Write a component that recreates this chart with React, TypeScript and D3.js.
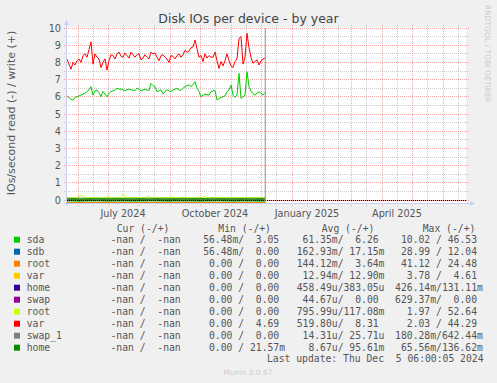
import React from 'react';
import * as d3 from 'd3';

const W = 497;
const H = 383;
const DAY = 86400000;
const START = Date.UTC(2024, 4, 21);
const END = Date.UTC(2025, 5, 25);
const NOW = Date.UTC(2024, 11, 5, 6);

const yTicks = [0, 1, 2, 3, 4, 5, 6, 7, 8, 9, 10];
const xLabelDates = [Date.UTC(2024, 6, 16), Date.UTC(2024, 9, 16), Date.UTC(2025, 0, 16), Date.UTC(2025, 3, 16)];
const xLabelTexts = ['July 2024', 'October 2024', 'January 2025', 'April 2025'];

// writes, 2-day step
const sdaWrite = [
  6.05, 5.95, 5.85, 5.8, 5.97, 6.0, 6.05, 6.1, 6.16, 6.2,
  6.3, 6.4, 6.59, 6.1, 6.35, 6.4, 6.25, 6.0, 6.3, 6.16,
  6.0, 6.2, 6.3, 6.35, 6.4, 6.5, 6.45, 6.44, 6.4, 6.36,
  6.42, 6.44, 6.4, 6.38, 6.36, 6.5, 6.45, 6.34, 6.4, 6.44,
  6.4, 6.36, 6.78, 6.65, 6.59, 6.3, 6.35, 6.4, 6.16, 6.3,
  6.4, 6.35, 6.3, 6.4, 6.45, 6.5, 6.4, 6.36, 6.5, 6.59,
  6.65, 6.69, 6.6, 6.7, 6.88, 6.5, 6.3, 6.0, 6.1, 6.16,
  6.12, 6.1, 6.3, 6.35, 6.36, 5.81, 5.9, 5.97, 6.0, 6.05,
  6.3, 6.4, 6.69, 6.1, 5.97, 6.1, 7.36, 5.91, 6.0, 6.1,
  7.46, 6.59, 6.3, 6.2, 6.1, 6.2, 6.3, 6.2, 6.1, 6.25,
];
const varWrite2 = [
  8.18, 7.9, 7.6, 8.0, 7.85, 8.1, 8.2, 8.0, 8.4, 8.5,
  8.3, 8.75, 9.2, 7.9, 8.5, 8.3, 8.2, 7.7, 8.0, 8.2,
  7.55, 8.1, 8.45, 8.4, 8.2, 8.5, 8.6, 8.35, 8.3, 8.55,
  8.4, 8.25, 8.6, 8.45, 8.3, 8.45, 8.5, 8.15, 8.25, 8.45,
  8.3, 8.2, 8.6, 8.5, 8.55, 8.3, 8.1, 8.4, 8.45, 8.3,
  8.2, 8.0, 8.4, 8.35, 8.2, 8.4, 8.5, 8.3, 8.45, 8.7,
  8.6, 8.65, 8.85, 8.9, 9.3, 8.8, 8.3, 8.4, 8.05, 8.5,
  8.25, 8.4, 8.3, 8.3, 8.6, 8.1, 7.65, 8.05, 7.8, 8.1,
  8.5, 8.1, 7.8, 7.7, 8.05, 8.2, 9.4, 9.5, 7.9, 8.3,
  9.7, 8.85, 8.3, 7.95, 8.05, 8.15, 7.85, 8.1, 8.2, 8.25,
];
const rootWrite2 = [
  0.13, 0.12, 0.13, 0.12, 0.14, 0.13, 0.2, 0.29, 0.14, 0.12,
  0.13, 0.12, 0.13, 0.14, 0.12, 0.13, 0.12, 0.13, 0.12, 0.14,
  0.22, 0.13, 0.12, 0.13, 0.12, 0.14, 0.13, 0.12, 0.33, 0.16,
  0.12, 0.13, 0.12, 0.14, 0.13, 0.12, 0.13, 0.12, 0.13, 0.12,
  0.14, 0.24, 0.13, 0.12, 0.13, 0.12, 0.14, 0.13, 0.12, 0.13,
  0.12, 0.13, 0.14, 0.2, 0.13, 0.12, 0.13, 0.12, 0.14, 0.13,
  0.12, 0.13, 0.12, 0.13, 0.14, 0.12, 0.13, 0.12, 0.16, 0.22,
  0.13, 0.12, 0.13, 0.14, 0.12, 0.13, 0.12, 0.19, 0.13, 0.12,
  0.13, 0.12, 0.14, 0.13, 0.12, 0.13, 0.12, 0.13, 0.14, 0.12,
  0.13, 0.12, 0.13, 0.12, 0.14, 0.13, 0.12, 0.13, 0.14, 0.13,
];
// 6-day step
const homeWrite2 = [
  0.1, 0.09, 0.1, 0.1, 0.09, 0.1, 0.09, 0.1, 0.1, 0.09,
  0.1, 0.1, 0.09, 0.1, 0.1, 0.09, 0.1, 0.1, 0.09, 0.1,
  0.1, 0.09, 0.1, 0.09, 0.1, 0.1, 0.09, 0.1, 0.1, 0.09,
  0.1, 0.1, 0.09, 0.1,
];
const sdaRead = [
  0.06, 0.06, 0.07, 0.06, 0.06, 0.05, 0.06, 0.07, 0.06, 0.06,
  0.06, 0.07, 0.06, 0.06, 0.05, 0.06, 0.06, 0.07, 0.06, 0.06,
  0.06, 0.06, 0.07, 0.06, 0.06, 0.05, 0.06, 0.06, 0.07, 0.06,
  0.06, 0.06, 0.07, 0.06,
];
const sdbRead = [
  0.16, 0.17, 0.16, 0.16, 0.17, 0.16, 0.16, 0.16, 0.17, 0.16,
  0.16, 0.16, 0.17, 0.16, 0.16, 0.17, 0.16, 0.16, 0.16, 0.17,
  0.16, 0.16, 0.16, 0.17, 0.16, 0.16, 0.17, 0.16, 0.16, 0.16,
  0.17, 0.16, 0.16, 0.16,
];
const rootRead = [
  0.14, 0.15, 0.14, 0.14, 0.15, 0.14, 0.14, 0.14, 0.15, 0.14,
  0.14, 0.15, 0.14, 0.14, 0.14, 0.15, 0.14, 0.14, 0.15, 0.14,
  0.14, 0.14, 0.15, 0.14, 0.14, 0.15, 0.14, 0.14, 0.14, 0.15,
  0.14, 0.14, 0.15, 0.14,
];
// 33-day step
const sdbWrite = [0.017, 0.018, 0.016, 0.017, 0.018, 0.017, 0.017];
const rootWrite = [0.004, 0.003, 0.004, 0.004, 0.003, 0.004, 0.004];
const varRead = [0.013, 0.012, 0.013, 0.014, 0.013, 0.012, 0.013];
const varWrite = [0.013, 0.013, 0.012, 0.013, 0.014, 0.013, 0.013];
const homeRead = [0.0005, 0.0004, 0.0005, 0.0005, 0.0004, 0.0005, 0.0005];
const homeWrite = [0.0004, 0.0004, 0.0003, 0.0004, 0.0004, 0.0004, 0.0004];
const swapRead = [0.00004, 0.00005, 0.00004, 0.00004, 0.00005, 0.00004, 0.00004];
const swapWrite = [0, 0, 0, 0, 0, 0, 0];
const rootRead2 = [0.0008, 0.0008, 0.0007, 0.0008, 0.0008, 0.0009, 0.0008];
const varRead2 = [0.0005, 0.0005, 0.0006, 0.0005, 0.0005, 0.0005, 0.0005];
const swap1Read = [0.00001, 0.00001, 0.00002, 0.00001, 0.00001, 0.00001, 0.00001];
const swap1Write = [0.00003, 0.00002, 0.00003, 0.00003, 0.00002, 0.00003, 0.00003];
const homeRead2 = [0.00001, 0.00001, 0.00001, 0.00001, 0.00001, 0.00001, 0.00001];

const legendNames = ['sda', 'sdb', 'root', 'var', 'home', 'swap', 'root', 'var', 'swap_1', 'home'];
const legendColors = ['#00CC00', '#0066B3', '#FF8000', '#FFCC00', '#330099', '#990099', '#CCFF00', '#FF0000', '#808080', '#008F00'];
const curVals = legendNames.map(() => ['-nan', '-nan']);
const minVals = [
  ['56.48m', '3.05'], ['56.48m', '0.00'], ['0.00', '0.00'], ['0.00', '0.00'], ['0.00', '0.00'],
  ['0.00', '0.00'], ['0.00', '0.00'], ['0.00', '4.69'], ['0.00', '0.00'], ['0.00', '21.57m'],
];
const avgVals = [
  ['61.35m', '6.26'], ['162.93m', '17.15m'], ['144.12m', '3.64m'], ['12.94m', '12.90m'], ['458.49u', '383.05u'],
  ['44.67u', '0.00'], ['795.99u', '117.08m'], ['519.80u', '8.31'], ['14.31u', '25.71u'], ['8.67u', '95.61m'],
];
const maxVals = [
  ['10.02', '46.53'], ['28.99', '12.04'], ['41.12', '24.48'], ['3.78', '4.61'], ['426.14m', '131.11m'],
  ['629.37m', '0.00'], ['1.97', '52.64'], ['2.03', '44.29'], ['180.28m', '642.44m'], ['65.56m', '136.62m'],
];
const headerTexts = ['Cur (-/+)', 'Min (-/+)', 'Avg (-/+)', 'Max (-/+)'];

// draw order: [values, stepDays, sign, color]
const seriesDefs: [number[], number, number, string][] = [
  [sdaRead, 6, -1, '#00CC00'], [sdaWrite, 2, 1, '#00CC00'],
  [sdbRead, 6, -1, '#0066B3'], [sdbWrite, 33, 1, '#0066B3'],
  [rootRead, 6, -1, '#FF8000'], [rootWrite, 33, 1, '#FF8000'],
  [varRead, 33, -1, '#FFCC00'], [varWrite, 33, 1, '#FFCC00'],
  [homeRead, 33, -1, '#330099'], [homeWrite, 33, 1, '#330099'],
  [swapRead, 33, -1, '#990099'], [swapWrite, 33, 1, '#990099'],
  [rootRead2, 33, -1, '#CCFF00'], [rootWrite2, 2, 1, '#CCFF00'],
  [varRead2, 33, -1, '#FF0000'], [varWrite2, 2, 1, '#FF0000'],
  [swap1Read, 33, -1, '#808080'], [swap1Write, 33, 1, '#808080'],
  [homeRead2, 33, -1, '#008F00'], [homeWrite2, 6, 1, '#008F00'],
];

const fmt = (s: string) => {
  const last = s[s.length - 1];
  const hasSuf = /[a-z]/.test(last) && s !== '-nan';
  const num = hasSuf ? s.slice(0, -1) : s;
  return num.padStart(6) + (hasSuf ? last : ' ');
};
const cell = (p: string[]) => fmt(p[0]) + '/' + fmt(p[1]);

export default function App() {
  const x = d3.scaleUtc().domain([new Date(START), new Date(END)]).range([67, 467]);
  const y = d3.scaleLinear().domain([-0.1744, 10]).range([203, 28]);
  const line = d3.line<{ t: number; v: number }>().x((d) => x(new Date(d.t))).y((d) => y(d.v));

  const majorX = d3.utcMonth.range(new Date(START), new Date(END));
  const minorX = d3.utcMonth
    .range(new Date(START - 20 * DAY), new Date(END))
    .map((d) => new Date(d.getTime() + 15 * DAY))
    .filter((d) => d.getTime() > START && d.getTime() < END);
  const minorY = d3.range(0.5, 10, 1);

  const gridMinor = 'rgba(140,140,140,0.45)';
  const gridMajor = 'rgba(230,60,60,0.45)';
  const axisCol = '#c8cdf2';
  const textCol = '#555555';
  const mono = '"DejaVu Sans Mono", monospace';
  const sans = '"DejaVu Sans", sans-serif';
  const colX = [98.8, 197.3, 296.7, 395.1];
  const headX = [116.7, 218.3, 321.7, 422.7];
  const x0 = x(new Date(START));
  const x1 = x(new Date(END));
  const yBot = y(-0.1744);
  const yTop = y(10);

  return (
    <svg width={W} height={H} style={{ position: 'absolute', left: 0, top: 0, display: 'block' }}>
      <rect x={0} y={0} width={W} height={H} fill="#F0F0F0" />
      <rect x={x0} y={yTop - 1} width={x1 - x0 - 1} height={yBot - yTop + 1} fill="#FFFFFF" />

      {/* grid */}
      <g shapeRendering="crispEdges" strokeDasharray="1,1">
        {minorY.map((v) => (
          <line key={'my' + v} x1={x0 - 3} x2={x1 + 2} y1={y(v)} y2={y(v)} stroke={gridMinor} />
        ))}
        {minorX.map((d) => (
          <line key={'mx' + d.getTime()} x1={x(d)} x2={x(d)} y1={yTop - 3} y2={yBot + 3} stroke={gridMinor} />
        ))}
        {yTicks.map((v) => (
          <line key={'gy' + v} x1={x0 - 3} x2={x1 + 2} y1={y(v)} y2={y(v)} stroke={gridMajor} />
        ))}
        {majorX.map((d) => (
          <line key={'gx' + d.getTime()} x1={x(d)} x2={x(d)} y1={yTop - 3} y2={yBot + 3} stroke={gridMajor} />
        ))}
      </g>

      {/* series */}
      <g fill="none" strokeWidth={1}>
        {seriesDefs.map(([vals, step, sign, color], i) => (
          <path
            key={'s' + i}
            d={line(vals.map((v, j) => ({ t: START + j * step * DAY, v: sign * v }))) || ''}
            stroke={color}
          />
        ))}
      </g>

      {/* zero line */}
      <line x1={x0} x2={x1 - 1} y1={y(0)} y2={y(0)} stroke="#000" strokeDasharray="1,1" shapeRendering="crispEdges" />

      {/* now line */}
      <line x1={x(new Date(NOW))} x2={x(new Date(NOW))} y1={yTop} y2={yBot} stroke="#909090" strokeWidth={1} />

      {/* axes */}
      <line x1={x0 - 3} x2={x1 + 4} y1={yBot + 0.5} y2={yBot + 0.5} stroke={axisCol} />
      <path d={`M${x1 + 3},${yBot - 2} L${x1 + 8},${yBot + 0.5} L${x1 + 3},${yBot + 3} Z`} fill={axisCol} />
      <line x1={x0 - 0.5} x2={x0 - 0.5} y1={yBot + 3} y2={yTop - 4} stroke={axisCol} />
      <path d={`M${x0 - 3},${yTop - 3} L${x0 - 0.5},${yTop - 8} L${x0 + 2},${yTop - 3} Z`} fill={axisCol} />

      {/* y tick labels */}
      {yTicks.map((v) => (
        <text key={'yl' + v} x={61} y={y(v) + 3.5} textAnchor="end" fontFamily={sans} fontSize={9.7} fill={textCol}>
          {v}
        </text>
      ))}
      {/* x labels */}
      {xLabelDates.map((t, i) => (
        <text key={'xl' + i} x={x(new Date(t))} y={216.5} textAnchor="middle" fontFamily={sans} fontSize={9.7} fill={textCol}>
          {xLabelTexts[i]}
        </text>
      ))}

      {/* title */}
      <text x={248.5} y={23} textAnchor="middle" fontFamily={sans} fontSize={12.5} fill="#444">
        Disk IOs per device - by year
      </text>
      {/* y axis label */}
      <text transform="translate(14.5,113) rotate(-90)" textAnchor="middle" fontFamily={sans} fontSize={11} fill={textCol}>
        IOs/second read (-) / write (+)
      </text>
      {/* watermark */}
      <text transform="translate(485,5) rotate(90)" fontFamily={sans} fontSize={7.6} fill="#cccccc">
        RRDTOOL / TOBI OETIKER
      </text>

      {/* legend */}
      <g fontFamily={mono} fontSize={9.72} fill={textCol} style={{ whiteSpace: 'pre' }}>
        {headerTexts.map((h, i) => (
          <text key={'h' + i} x={headX[i]} y={231.8} xmlSpace="preserve">
            {h}
          </text>
        ))}
        {legendNames.map((n, i) => {
          const cy = 239.7 + i * 12;
          return (
            <g key={'lg' + i}>
              <rect x={14} y={cy - 3} width={6} height={6} fill={legendColors[i]} />
              <text x={26.7} y={cy + 3.5} xmlSpace="preserve">{n}</text>
              <text x={colX[0]} y={cy + 3.5} xmlSpace="preserve">{cell(curVals[i])}</text>
              <text x={colX[1]} y={cy + 3.5} xmlSpace="preserve">{cell(minVals[i])}</text>
              <text x={colX[2]} y={cy + 3.5} xmlSpace="preserve">{cell(avgVals[i])}</text>
              <text x={colX[3]} y={cy + 3.5} xmlSpace="preserve">{cell(maxVals[i])}</text>
            </g>
          );
        })}
        <text x={483.5} y={361.8} textAnchor="end" xmlSpace="preserve">
          Last update: Thu Dec  5 06:00:05 2024
        </text>
      </g>
      <text x={248} y={375} textAnchor="middle" fontFamily={sans} fontSize={7.5} fill="#cccccc">
        Munin 2.0.67
      </text>
    </svg>
  );
}
